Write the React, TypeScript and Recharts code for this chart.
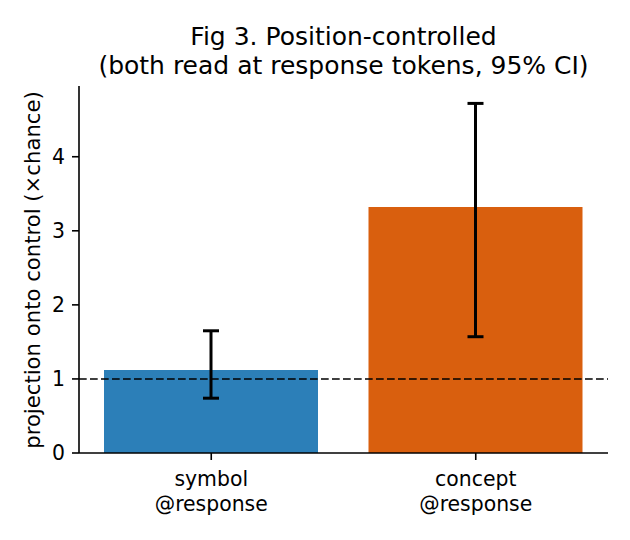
import React from "react";
import {
  BarChart,
  Bar,
  XAxis,
  YAxis,
  Cell,
  ErrorBar,
  ReferenceLine,
} from "recharts";

const categories = ["symbol\n@response", "concept\n@response"];
const values = [1.12, 3.32];
const ciLow = [0.74, 1.57];
const ciHigh = [1.65, 4.72];
const barColors = ["#2c7fb8", "#d95f0e"];
const yTicks = [0, 1, 2, 3, 4];
const titleLines = ["Fig 3. Position-controlled", "(both read at response tokens, 95% CI)"];
const yLabel = "projection onto control (×chance)";

const FONT = "'DejaVu Sans', sans-serif";

const data = categories.map((c, i) => ({
  name: c,
  value: values[i],
  err: [values[i] - ciLow[i], ciHigh[i] - values[i]],
}));

const XTick = (props: any) => {
  const { x, y, payload } = props;
  const lines = String(payload.value).split("\n");
  return (
    <g>
      {lines.map((l: string, i: number) => (
        <text
          key={i}
          x={x}
          y={y + 19 + i * 24.5}
          textAnchor="middle"
          fontFamily={FONT}
          fontSize={20.4}
          fill="#000"
        >
          {l}
        </text>
      ))}
    </g>
  );
};

export default function App() {
  return (
    <div style={{ position: "absolute", left: 0, top: 0, width: 630, height: 540, background: "#fff" }}>
      <BarChart
        width={630}
        height={540}
        data={data}
        margin={{ top: 86, right: 22, left: 0, bottom: 0 }}
      >
        <XAxis
          dataKey="name"
          height={87}
          tick={<XTick />}
          tickSize={7}
          tickMargin={7}
          axisLine={{ stroke: "#000", strokeWidth: 1.6 }}
          tickLine={{ stroke: "#000", strokeWidth: 1.6 }}
          interval={0}
        />
        <YAxis
          width={79}
          domain={[0, 4.955]}
          ticks={yTicks}
          allowDataOverflow
          tickSize={7}
          tickMargin={7}
          axisLine={{ stroke: "#000", strokeWidth: 1.6 }}
          tickLine={{ stroke: "#000", strokeWidth: 1.6 }}
          tick={{ fill: "#000", fontSize: 20.4, fontFamily: FONT }}
        />
        <Bar dataKey="value" barSize={214} isAnimationActive={false}>
          {data.map((d, i) => (
            <Cell key={i} fill={barColors[i]} />
          ))}
          <ErrorBar dataKey="err" width={8} stroke="#000" strokeWidth={3} direction="y" />
        </Bar>
        <ReferenceLine y={1} stroke="#000" strokeWidth={1.6} strokeDasharray="7.7 3.3" />
      </BarChart>
      <svg
        width={630}
        height={540}
        style={{ position: "absolute", left: 0, top: 0, pointerEvents: "none" }}
      >
        {titleLines.map((t, i) => (
          <text
            key={i}
            x={343.5}
            y={45 + i * 28.5}
            textAnchor="middle"
            fontFamily={FONT}
            fontSize={25}
            fill="#000"
          >
            {t}
          </text>
        ))}
        <text
          transform="translate(39.5,270) rotate(-90)"
          textAnchor="middle"
          fontFamily={FONT}
          fontSize={21.2}
          fill="#000"
        >
          {yLabel}
        </text>
      </svg>
    </div>
  );
}
